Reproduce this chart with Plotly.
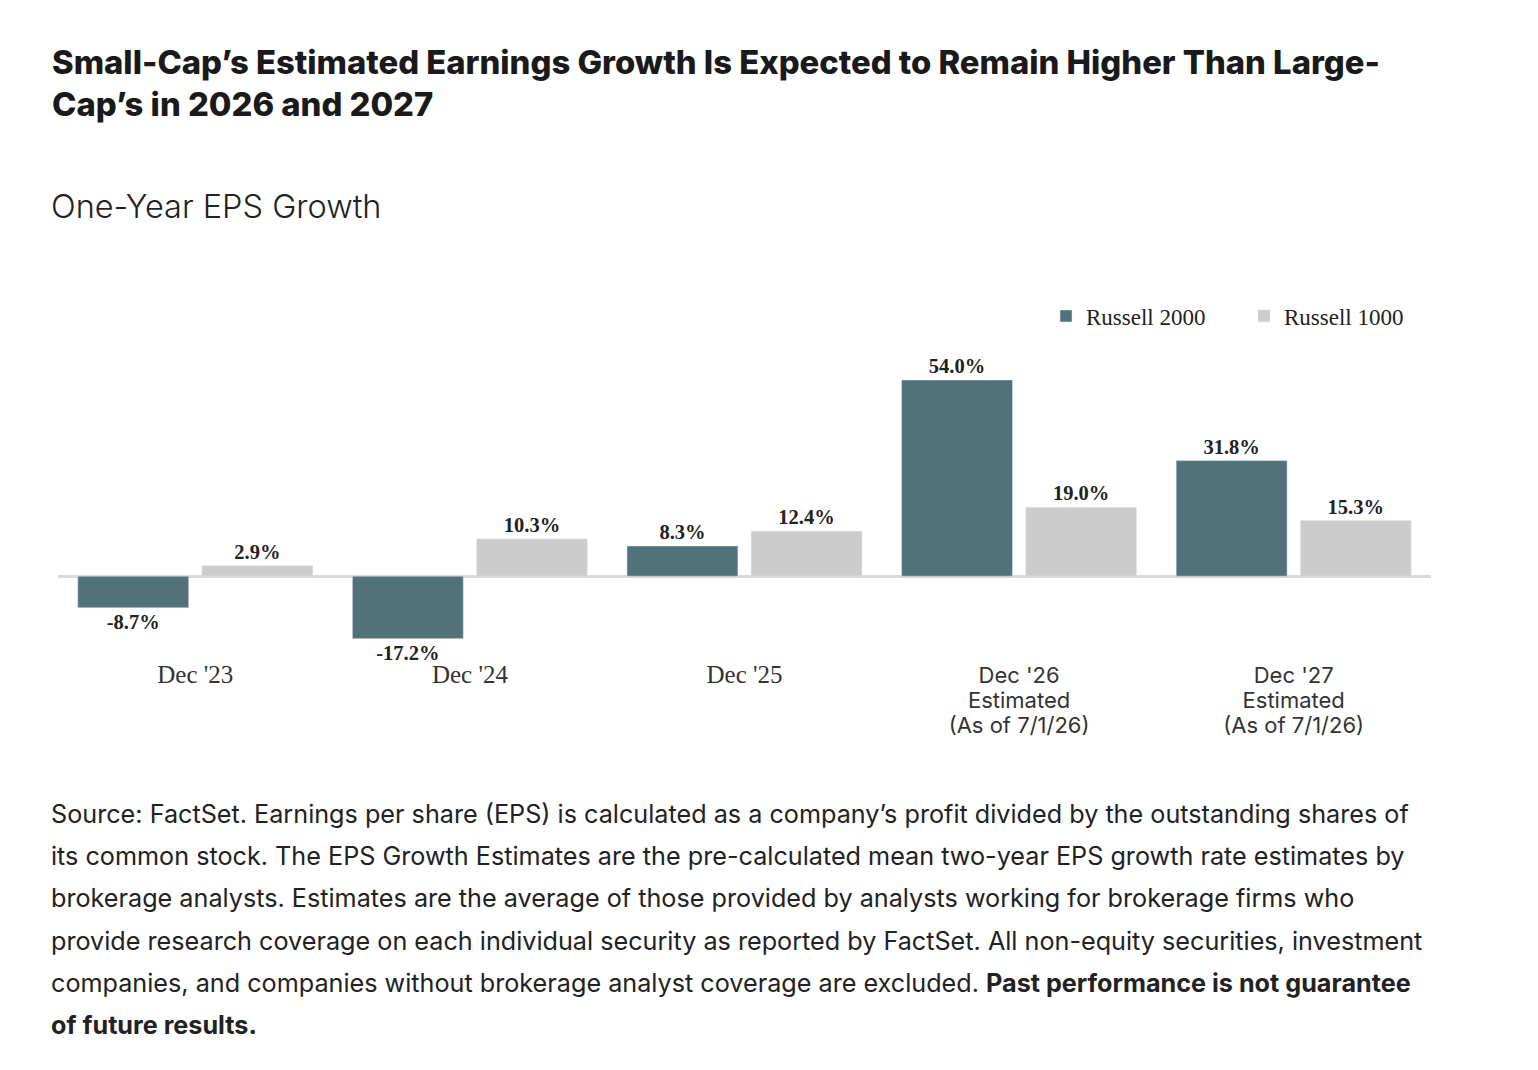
import plotly.graph_objects as go

categories = ["Dec '23", "Dec '24", "Dec '25", "Dec '26 Estimated (As of 7/1/26)", "Dec '27 Estimated (As of 7/1/26)"]
tick_lines = [["Dec '23"], ["Dec '24"], ["Dec '25"], ["Dec '26", "Estimated", "(As of 7/1/26)"], ["Dec '27", "Estimated", "(As of 7/1/26)"]]
russell_2000 = [-8.7, -17.2, 8.3, 54.0, 31.8]
russell_1000 = [2.9, 10.3, 12.4, 19.0, 15.3]
series_names = ["Russell 2000", "Russell 1000"]

title_lines = ["Small-Cap\u2019s Estimated Earnings Growth Is Expected to Remain Higher Than Large-",
               "Cap\u2019s in 2026 and 2027"]
subtitle = "One-Year EPS Growth"
footnote_lines = [
    "Source: FactSet. Earnings per share (EPS) is calculated as a company\u2019s profit divided by the outstanding shares of",
    "its common stock. The EPS Growth Estimates are the pre-calculated mean two-year EPS growth rate estimates by",
    "brokerage analysts. Estimates are the average of those provided by analysts working for brokerage firms who",
    "provide research coverage on each individual security as reported by FactSet. All non-equity securities, investment",
    "companies, and companies without brokerage analyst coverage are excluded. <b>Past performance is not guarantee</b>",
    "<b>of future results.</b>",
]

W, H = 1538, 1070
L, R, T, B = 58, 1431, 340, 655
SANS = "Inter"
SERIF = "Liberation Serif"
DARK = "#222222"
C2000 = "#51727a"
C1000 = "#cccccc"


def px(x):
    return (x - L) / (R - L)


def py(y):
    return (B - y) / (B - T)


xs = list(range(len(categories)))
ticktext = []
for i, lines in enumerate(tick_lines):
    if len(lines) == 1:
        ticktext.append(f"<span style='font-size:25px'>{lines[0]}</span>")
    else:
        ticktext.append("<br>".join(
            f"<span style='font-family:{SANS};font-size:22px'>{ln}</span>" for ln in lines))

fig = go.Figure()
fig.add_trace(go.Bar(
    x=xs, y=russell_2000, name=series_names[0], marker_color=C2000,
    width=0.404, offset=-0.428,
    text=[f"{v:.1f}%" for v in russell_2000], textposition="outside",
    textfont=dict(family=SERIF, size=20.5, color=DARK, weight="bold"),
    cliponaxis=False,
))
fig.add_trace(go.Bar(
    x=xs, y=russell_1000, name=series_names[1], marker_color=C1000,
    width=0.404, offset=0.024,
    text=[f"{v:.1f}%" for v in russell_1000], textposition="outside",
    textfont=dict(family=SERIF, size=20.5, color=DARK, weight="bold"),
    cliponaxis=False,
))

annotations = []
for i, t in enumerate(title_lines):
    annotations.append(dict(text=t, x=px(50), y=py(62 + 42 * i), xref="paper", yref="paper",
                            xanchor="left", yanchor="middle", showarrow=False,
                            font=dict(family=SANS, size=32.8, color="#1a1a1a", weight=800)))
annotations.append(dict(text=subtitle, x=px(49), y=py(207), xref="paper", yref="paper",
                        xanchor="left", yanchor="middle", showarrow=False,
                        font=dict(family=SANS, size=32.5, color="#222222", weight=300)))
for i, t in enumerate(footnote_lines):
    annotations.append(dict(text=t, x=px(49), y=py(814 + 42.2 * i), xref="paper", yref="paper",
                            xanchor="left", yanchor="middle", showarrow=False,
                            font=dict(family=SANS, size=25.2, color="#222222")))

fig.update_layout(
    width=W, height=H,
    margin=dict(l=L, r=W - R, t=T, b=H - B, pad=0),
    paper_bgcolor="white", plot_bgcolor="white",
    barmode="overlay",
    showlegend=True,
    legend=dict(orientation="h", x=px(1046), xanchor="left", y=py(316), yanchor="middle",
                font=dict(family=SERIF, size=23, color=DARK), traceorder="normal",
                itemwidth=30, entrywidth=153, entrywidthmode="pixels"),
    xaxis=dict(range=[-0.5, 4.5], tickmode="array", tickvals=xs, ticktext=ticktext,
               showgrid=False, zeroline=False, showline=False, ticks="",
               tickfont=dict(family=SERIF, size=19.3, color="#333333"), ticklabelstandoff=8),
    yaxis=dict(range=[-21.7, 65.0], showgrid=False, showticklabels=False, ticks="",
               zeroline=True, zerolinecolor="#d9d9d9", zerolinewidth=2.5, showline=False),
    annotations=annotations,
)

fig.write_html("out.html")
